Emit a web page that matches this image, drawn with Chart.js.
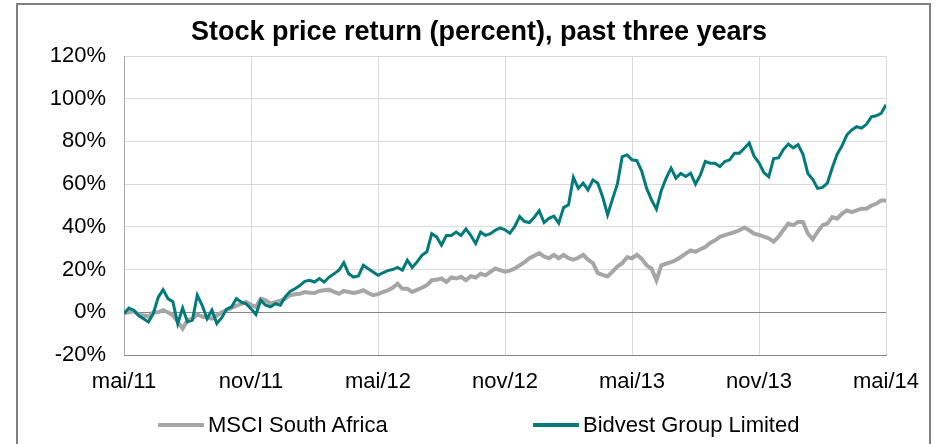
<!DOCTYPE html>
<html>
<head>
<meta charset="utf-8">
<script src="https://cdn.jsdelivr.net/npm/chart.js@4"></script>
<style>
body{margin:0;background:#fff;font-family:"Liberation Sans",Arial,sans-serif;}
#wrap{position:relative;width:936px;height:444px;overflow:hidden;}
#frame{position:absolute;left:16px;top:3px;width:911px;height:520px;border:2px solid #808080;pointer-events:none;}
.key{position:absolute;top:423px;height:4px;}
.lbl{position:absolute;top:411px;font-size:22px;color:#000;line-height:28px;}
</style>
</head>
<body>
<div id="wrap">
<canvas id="c" width="936" height="444"></canvas>
<div id="frame"></div>
<div class="key" style="left:158px;width:46px;background:#a6a6a6"></div>
<div class="lbl" style="left:208px">MSCI South Africa</div>
<div class="key" style="left:533px;width:46px;background:#027a7b"></div>
<div class="lbl" style="left:583px">Bidvest Group Limited</div>
</div>
<script>
const FONT='"Liberation Sans", Arial, sans-serif';

// x axis: weekly points from mai/11 to mai/14, a tick every 26 weeks
const tickLabels=["mai/11","nov/11","mai/12","nov/12","mai/13","nov/13","mai/14"];

/* MSCI South Africa, percent return, weekly */
const msci=[
-0.5,0,0.5,-1,-1.5,-2,0,0,1,0,
-1.4,-4.5,-7.6,-3.7,-3,-1,-2,-2.5,-3,-1.5,
0,1,2,3,4,4.8,3.5,2.5,6.4,5.6,
4,4.8,5.5,6.4,8,8.4,8.7,9.5,9.2,9,
10,10.3,10.6,9.5,8.7,10,9.5,9,9.5,10.3,
9,8,8.5,9.5,10.3,11.5,13.4,11,11,9.5,
10.5,11.5,12.7,15,15.2,15.8,14.2,16.3,15.8,16.6,
15,16.9,16.3,18.1,17.3,18.9,20.5,19.7,19,19.5,
20.5,22,23.5,25.3,26.5,27.7,26.1,25.3,26.9,25.3,
26.9,25.3,24.6,25.5,26.9,24.6,23,18.3,17.5,16.8,
19,21.4,23,25.8,25.3,26.9,25,22,20.5,15,
22,22.8,23.5,24.5,25.9,27.5,29,28.3,29.5,30.6,
32.5,33.7,35.3,36.1,36.8,37.5,38.4,39.7,38.4,36.8,
36.2,35.4,34.6,33.1,35.4,38.5,41.5,40.8,42.3,42.3,
36.9,34.2,37.7,40.8,41.5,44.6,43.8,46.2,47.7,46.9,
47.7,48.5,48.5,50,50.8,52.3,52.3
];

/* Bidvest Group Limited, percent return, weekly */
const bidvest=[
-0.6,2,1,-1.5,-3,-4.5,-0.6,7,10.6,6.4,
5,-5.3,2,-4.5,-3.7,8,3.3,-3,1,-5.3,
-2.5,1.5,2.5,6.4,4.8,4,1.7,-1,5.6,3.3,
2.5,4,3.3,7.2,9.8,11,12.5,14.5,15,14.2,
15.8,14.2,16.5,18,19.7,23.2,18,16.5,17,22,
20.4,18.9,17.3,18.5,19.5,20,21,19.7,24.4,21,
23.6,26.7,28.3,36.8,35.3,31.4,36,36,37.6,36,
39,36,32.2,37.6,36,36.8,38.4,39.5,38.6,37,
40.2,44.8,42.5,42,44.5,47.5,42,44,45,41.7,
49,50.3,63.2,58,60.5,57.3,62,60.4,54,45.6,
53,60,72.9,73.7,71.4,71,66,58,52.6,48.3,
57,62.8,67.5,62.8,65,63.6,65.1,60,64.3,70.6,
69.8,69.8,68.2,70.6,71.4,74.5,74.5,76.8,79.2,73,
70,65.4,63.4,72,72.3,76.2,78.8,77,78.5,74,
65,62.3,58,58.5,60.5,67.7,74,78,83.1,85.4,
86.9,86.2,88,91.5,92,93.1,97.2
];

const toPts=arr=>arr.map((v,i)=>({x:i,y:v}));

new Chart(document.getElementById("c"),{
type:"line",
data:{
datasets:[
{label:"Bidvest Group Limited",data:toPts(bidvest),borderColor:"#027a7b",borderWidth:3,pointRadius:0,tension:0,order:0},
{label:"MSCI South Africa",data:toPts(msci),borderColor:"#a6a6a6",borderWidth:4,pointRadius:0,tension:0,order:1}
]
},
options:{
responsive:false,
animation:false,
layout:{padding:{left:22,right:0,top:0,bottom:44}},
plugins:{
legend:{display:false},
tooltip:{enabled:false},
title:{
display:true,
text:"Stock price return (percent), past three years",
color:"#000",
font:{family:FONT,size:27,weight:"bold"},
padding:{top:16.3,bottom:7.3}
}
},
scales:{
x:{
type:"linear",min:0,max:156,
afterBuildTicks:s=>{s.ticks=tickLabels.map((t,i)=>({value:i*26}));},
ticks:{padding:14,color:"#000",font:{family:FONT,size:22},autoSkip:false,maxRotation:0,
callback:v=>tickLabels[v/26]},
grid:{color:"#d9d9d9",drawTicks:false},
border:{color:"#868686",width:1},
afterFit:s=>{s.height=45;}
},
y:{
min:-20,max:120,
ticks:{stepSize:20,padding:18,color:"#000",font:{family:FONT,size:22},callback:v=>v+"%"},
grid:{color:c=>c.tick.value===0?"#868686":"#d9d9d9",drawTicks:false},
border:{color:"#a6a6a6"},
afterFit:s=>{s.width=102;}
},
y2:{
position:"right",
ticks:{display:false},
grid:{display:false},
border:{display:false},
afterFit:s=>{s.width=50;}
}
}
}
});
</script>
</body>
</html>
